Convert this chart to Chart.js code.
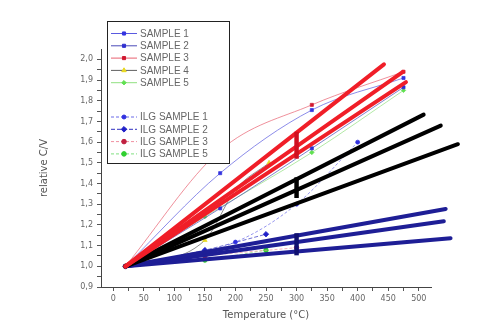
<!DOCTYPE html>
<html>
<head>
<meta charset="utf-8">
<script src="https://cdn.jsdelivr.net/npm/chart.js@4.4.0/dist/chart.umd.min.js"></script>
<style>
html,body{margin:0;padding:0;background:#fff;}
#wrap{width:485px;height:331px;position:relative;}
</style>
</head>
<body>
<div id="wrap"><canvas id="c" width="485" height="331"></canvas></div>
<script>
// ---- data ----
const originX = 20, originY = 1.0;
// thick fitted lines (end points), all starting at the origin point
const redEndX   = [443, 474, 479];
const redEndY   = [1.976, 1.94, 1.89];
const blackEndX = [508, 536, 564];
const blackEndY = [1.733, 1.68, 1.59];
const blueEndX  = [544, 541, 552];
const blueEndY  = [1.277, 1.218, 1.136];
// vertical range bars at 300 °C
const barX = 300;
const redBar   = [1.52, 1.65];
const blackBar = [1.33, 1.43];
const blueBar  = [1.053, 1.16];
// thin measured series
const labels = ['SAMPLE 1','SAMPLE 2','SAMPLE 3','SAMPLE 4','SAMPLE 5',
                'ILG SAMPLE 1','ILG SAMPLE 2','ILG SAMPLE 3','ILG SAMPLE 5'];
const s1X = [20,175,325,475], s1Y = [1.0,1.45,1.755,1.91];
const s2X = [20,175,325,475], s2Y = [1.0,1.28,1.57,1.865];
const s3X = [20,175,325,475], s3Y = [1.0,1.56,1.78,1.94];
const s4X = [20,150,200,255], s4Y = [1.0,1.126,1.37,1.50];
const s5X = [20,150,325,475], s5Y = [1.0,1.24,1.55,1.85];
const i1X = [20,200,300,400], i1Y = [1.0,1.117,1.30,1.60];
const i2X = [20,150,250], i2Y = [1.0,1.078,1.155];
const i3X = [20,150,300], i3Y = [1.0,1.05,1.09];
const i5X = [20,150,250], i5Y = [1.0,1.03,1.078];
// axes
const xMin = -20, xMax = 520, yMin = 0.9, yMax = 2.05;
const xTickVals = [0,25,50,75,100,125,150,175,200,225,250,275,300,325,350,375,400,425,450,475,500];
const xLabelVals = [0,50,100,150,200,250,300,350,400,450,500];
const yTickVals = [0.9,0.95,1.0,1.05,1.1,1.15,1.2,1.25,1.3,1.35,1.4,1.45,1.5,1.55,1.6,1.65,1.7,1.75,1.8,1.85,1.9,1.95,2.0];
const yLabelVals = [0.9,1.0,1.1,1.2,1.3,1.4,1.5,1.6,1.7,1.8,1.9,2.0];

const pts = (xs, ys) => xs.map((x, i) => ({x, y: ys[i]}));

const datasets = [];
function thick(endX, endY, color, order) {
  endX.forEach((ex, i) => datasets.push({
    label: '', data: [{x: originX, y: originY}, {x: ex, y: endY[i]}],
    showLine: true, borderColor: color, borderWidth: 4, pointRadius: 0,
    borderCapStyle: 'round', clip: false, order
  }));
}
function bar(range, color) {
  datasets.push({
    label: '', data: [{x: barX, y: range[0]}, {x: barX, y: range[1]}],
    showLine: true, borderColor: color, borderWidth: 4.5, pointRadius: 0, order: 0
  });
}
function thin(i, xs, ys, lineColor, ptColor, style, dash, r) {
  datasets.push({
    label: labels[i], data: pts(xs, ys), showLine: true, cubicInterpolationMode: 'monotone',
    borderColor: lineColor, borderWidth: 0.7, borderDash: dash,
    pointBackgroundColor: ptColor, pointBorderColor: ptColor,
    pointStyle: style, pointRadius: r, order: 5, inLegend: true
  });
}
thin(0, s1X, s1Y, '#5a5ae0', '#3434e0', 'rect', [], 2.2);
thin(1, s2X, s2Y, '#4a4ab8', '#3030d0', 'rect', [], 2.2);
thin(2, s3X, s3Y, '#e86070', '#d01830', 'rect', [], 2.2);
thin(3, s4X, s4Y, '#606060', '#e8d820', 'triangle', [], 2.6);
thin(4, s5X, s5Y, '#90e080', '#60e050', 'rectRot', [], 2.2);
thin(5, i1X, i1Y, '#6a6ae8', '#3030e0', 'circle', [3,2], 2);
thin(6, i2X, i2Y, '#3030c0', '#2020c8', 'rectRot', [4,2], 2.8);
thin(7, i3X, i3Y, '#f090a0', '#c02040', 'circle', [3,2], 2.3);
thin(8, i5X, i5Y, '#80e080', '#30d030', 'circle', [3,2], 2.3);
thick(blueEndX, blueEndY, '#1e1e96', 3);
thick(blackEndX, blackEndY, '#000000', 2);
thick(redEndX, redEndY, '#f01e28', 1);
bar(blueBar, '#101070');
bar(blackBar, '#000000');
bar(redBar, '#d01020');

const legendPlugin = {
  id: 'boxLegend',
  afterDraw(chart) {
    const ctx = chart.ctx;
    const x0 = 107, y0 = 21, w = 122, h = 142;
    ctx.save();
    ctx.fillStyle = '#fff';
    ctx.fillRect(x0, y0, w, h);
    ctx.strokeStyle = '#222';
    ctx.lineWidth = 1;
    ctx.strokeRect(x0 + 0.5, y0 + 0.5, w, h);
    ctx.font = '10px "Liberation Sans", Arial, sans-serif';
    ctx.textBaseline = 'middle';
    let y = y0 + 12;
    let idx = 0;
    chart.data.datasets.forEach(ds => {
      if (!ds.inLegend) return;
      if (idx === 5) y += 22;
      ctx.strokeStyle = ds.borderColor;
      ctx.lineWidth = 1;
      ctx.setLineDash(ds.borderDash || []);
      ctx.beginPath(); ctx.moveTo(x0 + 4, y + 0.5); ctx.lineTo(x0 + 30, y + 0.5); ctx.stroke();
      ctx.setLineDash([]);
      ctx.fillStyle = ds.pointBackgroundColor;
      ctx.strokeStyle = ds.pointBorderColor;
      Chart.helpers.drawPoint(ctx, {pointStyle: ds.pointStyle, radius: ds.pointRadius, rotation: 0, borderWidth: 1},
        x0 + 17, y + 0.5);
      ctx.fillStyle = '#666';
      ctx.fillText(ds.label, x0 + 33, y + 1);
      y += 12.3;
      idx++;
    });
    ctx.restore();
  }
};

const fmt = v => v.toFixed(1).replace('.', ',');
const has = (arr, v) => arr.some(a => Math.abs(a - v) < 1e-6);

new Chart(document.getElementById('c'), {
  type: 'scatter',
  data: {datasets},
  options: {
    responsive: false, animation: false,
    layout: {padding: {top: 49, right: 54, left: 0, bottom: 0}},
    plugins: {legend: {display: false}, tooltip: {enabled: false}},
    scales: {
      x: {
        type: 'linear', min: xMin, max: xMax,
        afterBuildTicks: s => { s.ticks = xTickVals.map(v => ({value: v})); },
        border: {display: true, color: '#444', width: 1},
        grid: {display: true, drawOnChartArea: false, drawTicks: true, tickLength: 4, tickColor: '#555'},
        ticks: {autoSkip: false, maxRotation: 0, color: '#666', padding: 3,
          font: {size: 8, family: 'DejaVu Sans'},
          callback: v => has(xLabelVals, v) ? String(v) : ''},
        title: {display: true, text: 'Temperature (°C)', color: '#555',
          font: {size: 10, family: 'DejaVu Sans'}, padding: {top: 2, bottom: 10}},
        afterFit: s => { s.height = 44; }
      },
      y: {
        type: 'linear', min: yMin, max: yMax,
        afterBuildTicks: s => { s.ticks = yTickVals.map(v => ({value: v})); },
        border: {display: true, color: '#444', width: 1},
        grid: {display: true, drawOnChartArea: false, drawTicks: true, tickLength: 4, tickColor: '#555'},
        ticks: {autoSkip: false, color: '#666', padding: 4,
          font: {size: 8, family: 'DejaVu Sans'},
          callback: v => has(yLabelVals, v) ? fmt(v) : ''},
        title: {display: true, text: 'relative C/V', color: '#555',
          font: {size: 10, family: 'DejaVu Sans'}, padding: {top: 38, bottom: 0}},
        afterFit: s => { s.width = 101; }
      }
    }
  },
  plugins: [legendPlugin]
});
</script>
</body>
</html>
